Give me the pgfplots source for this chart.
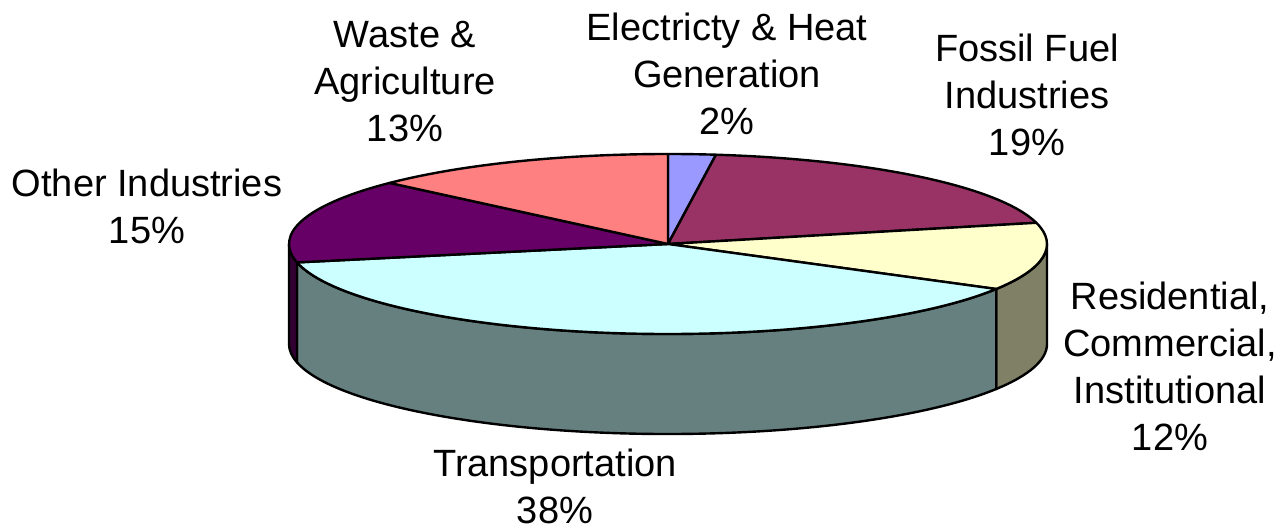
\documentclass[border=0pt]{standalone}
\usepackage{pgfplots}
\pgfplotsset{compat=1.18}
\usepackage{fontspec}
\setmainfont{Liberation Sans}
\definecolor{cElec}{HTML}{9999FF}
\definecolor{cFoss}{HTML}{993366}
\definecolor{cResi}{HTML}{FFFFCC}
\definecolor{cTran}{HTML}{CCFFFF}
\definecolor{cOthe}{HTML}{660066}
\definecolor{cWast}{HTML}{FF8080}
\definecolor{sResi}{HTML}{808066}
\definecolor{sTran}{HTML}{668080}
\definecolor{sOthe}{HTML}{330033}
% data (percent)
\def\vE{2}\def\vF{19}\def\vR{12}\def\vT{38}\def\vO{15}\def\vW{13}
\pgfmathsetmacro\tot{\vE+\vF+\vR+\vT+\vO+\vW}
\pgfmathsetmacro\aA{90}
\pgfmathsetmacro\aB{\aA-\vE*360/\tot}
\pgfmathsetmacro\aC{\aB-\vF*360/\tot}
\pgfmathsetmacro\aD{\aC-\vR*360/\tot}
\pgfmathsetmacro\aE{\aD-\vT*360/\tot}
\pgfmathsetmacro\aF{\aE-\vO*360/\tot}
\pgfmathsetmacro\aG{\aF-\vW*360/\tot}
\def\rx{189.5pt}\def\ry{45pt}\def\dep{50pt}
\newcommand\topslice[3]{%
  \filldraw[fill=#3,draw=black,line width=1.2pt,line join=round]
    (axis cs:668,285) -- ([shift={(#1:\rx\space and \ry)}]axis cs:668,285)
    arc[start angle=#1,end angle=#2,x radius=\rx,y radius=\ry] -- cycle;}
\newcommand\sideslice[3]{%
  \filldraw[fill=#3,draw=black,line width=1.2pt,line join=round]
    ([shift={(#1:\rx\space and \ry)}]axis cs:668,285)
    arc[start angle=#1,end angle=#2,x radius=\rx,y radius=\ry] -- ++(0,-\dep)
    arc[start angle=#2,end angle=#1,x radius=\rx,y radius=\ry] -- cycle;}
\begin{document}
\begin{tikzpicture}
\begin{axis}[width=639pt,height=264.5pt,scale only axis,
  xmin=0,xmax=1278,ymin=0,ymax=529,hide axis,clip=false]
\addplot[draw=none,forget plot] coordinates {(0,0) (1278,529)};
\sideslice{0}{\aD}{sResi}
\sideslice{\aD}{\aE}{sTran}
\sideslice{\aE}{-180}{sOthe}
\topslice{\aA}{\aB}{cElec}
\topslice{\aB}{\aC}{cFoss}
\topslice{\aC}{\aD}{cResi}
\topslice{\aD}{\aE}{cTran}
\topslice{\aE}{\aF}{cOthe}
\topslice{\aF}{\aG}{cWast}
\begin{scope}[every node/.style={align=center,font=\fontsize{19}{23.5}\selectfont,inner sep=0pt}]
\node at (axis cs:405,447.5) {Waste \&\\Agriculture\\13\%};
\node at (axis cs:727,455.5) {Electricty \& Heat\\Generation\\2\%};
\node at (axis cs:1027,434) {Fossil Fuel\\Industries\\19\%};
\node at (axis cs:147,323) {Other Industries\\15\%};
\node at (axis cs:1170,162.5) {Residential,\\Commercial,\\Institutional\\12\%};
\node at (axis cs:555,43) {Transportation\\38\%};
\end{scope}
\end{axis}
\end{tikzpicture}
\end{document}
